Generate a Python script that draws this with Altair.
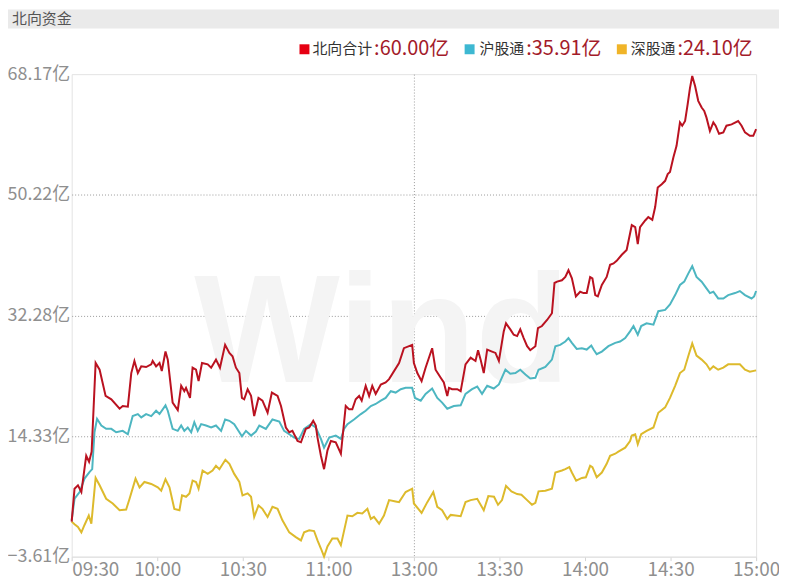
import json
import altair as alt
import pandas as pd

# ---- data: (minutes after 09:30 on the trading clock, value in 亿) ----
series_names = ["北向合计", "沪股通", "深股通"]
legend_values = [60.00, 35.91, 24.10]
line_colors = ["#BA1220", "#4DB6C1", "#DDBA2C"]
legend_colors = ["#E60012", "#3DB8D2", "#F0B428"]

red = [(0, 1.6), (1.0, 6.5), (2.2, 7.0), (3.4, 6.0), (5.1, 11.4), (6.1, 10.5), (7.0, 12.0),
       (8.4, 25.2), (9.8, 24.2), (11.9, 20.3), (13.9, 19.8), (16.8, 18.4), (17.9, 18.8),
       (19.7, 18.7), (20.9, 23.7), (22.0, 25.5), (23.2, 23.7), (24.4, 24.7), (26.1, 24.6),
       (27.9, 25.0), (28.4, 25.5), (29.6, 24.7), (30.8, 25.2), (31.6, 24.0), (32.9, 26.9),
       (33.7, 25.7), (35.4, 19.3), (37.2, 18.2), (38.4, 21.8), (39.5, 21.0), (40.1, 21.5),
       (41.5, 20.0), (42.4, 24.5), (43.6, 24.2), (44.5, 22.5), (45.7, 25.2), (47.7, 25.0),
       (48.9, 24.5), (50.6, 25.7), (52.0, 24.5), (53.8, 27.9), (55.3, 26.7), (56.4, 26.2),
       (57.6, 24.5), (58.8, 23.7), (59.7, 20.0), (60.5, 19.8), (61.7, 21.3), (62.9, 20.3),
       (64.0, 17.3), (65.5, 20.0), (66.9, 19.6), (68.7, 17.8), (70.2, 20.8), (72.2, 20.3),
       (73.4, 18.8), (75.1, 15.6), (76.3, 14.9), (77.4, 15.1), (79.2, 13.6), (80.4, 13.4),
       (82.1, 15.4), (83.3, 15.6), (84.7, 16.6), (85.6, 15.9), (86.2, 14.1), (87.4, 11.4),
       (88.5, 9.4), (89.7, 12.2), (90.9, 13.6), (92.6, 13.4), (94.4, 11.7), (95.5, 16.3),
       (96.1, 18.8), (97.3, 18.3), (98.4, 18.3), (99.6, 19.8), (100.8, 20.3), (101.7, 19.6),
       (103.1, 21.8), (104.3, 20.3), (105.4, 21.8), (106.6, 20.6), (108.4, 22.0), (110.1, 22.3),
       (111.3, 22.8), (114.8, 25.2), (116.5, 27.4), (119.4, 27.9), (120.0, 25.2), (121.2, 23.7),
       (122.7, 22.5), (124.1, 24.5), (126.4, 27.4), (127.6, 24.2), (129.4, 23.0), (130.5, 22.3),
       (131.7, 20.3), (132.3, 21.5), (133.4, 21.3), (135.2, 21.3), (136.4, 21.0), (138.1, 25.0),
       (139.9, 26.0), (141.6, 25.5), (142.5, 27.1), (143.4, 25.7), (144.5, 23.7), (145.7, 27.2),
       (147.4, 26.9), (148.6, 26.7), (149.8, 25.5), (151.5, 29.9), (152.3, 31.1), (153.8, 30.2),
       (155.0, 29.4), (156.2, 29.2), (157.3, 30.2), (158.5, 28.9), (159.7, 27.7), (160.8, 27.1),
       (162.6, 27.7), (163.5, 30.4), (164.9, 30.7), (166.7, 31.6), (168.4, 32.6), (169.3, 37.1),
       (170.2, 37.3), (171.9, 37.5), (173.1, 38.0), (174.2, 39.0), (175.4, 37.8), (176.8, 35.1),
       (178.3, 35.8), (179.5, 35.6), (180.6, 35.6), (181.8, 38.0), (182.6, 37.8), (183.6, 35.3),
       (184.5, 35.1), (185.9, 36.8), (187.6, 38.0), (188.8, 39.8), (190.0, 40.0), (191.1, 40.4),
       (192.9, 41.3), (194.6, 42.0), (196.4, 45.7), (197.6, 45.4), (198.5, 42.9), (199.3, 45.4),
       (201.1, 46.4), (202.2, 46.9), (203.6, 46.5), (204.6, 48.4), (205.5, 51.3), (206.9, 51.8),
       (208.1, 52.3), (209.0, 53.3), (209.8, 53.6), (211.0, 55.8), (212.1, 57.5), (213.3, 61.0),
       (214.1, 60.5), (215.1, 61.2), (216.0, 63.7), (216.8, 66.1), (217.6, 67.9), (218.6, 66.4),
       (219.7, 64.2), (220.9, 63.2), (221.8, 62.7), (222.6, 61.7), (223.8, 59.7), (225.0, 61.0),
       (225.8, 60.5), (227.0, 59.3), (228.5, 59.5), (229.6, 60.5), (231.4, 60.7), (233.7, 61.2),
       (234.9, 60.5), (236.1, 59.5), (237.8, 59.0), (239.0, 59.0), (240, 60.0)]

cyan = [(0, 1.8), (1.0, 5.0), (2.8, 6.0), (4.5, 8.0), (6.3, 9.0), (7.2, 9.4), (8.0, 14.9),
        (8.9, 16.9), (10.4, 15.9), (12.1, 15.4), (13.9, 15.4), (15.6, 14.9), (17.9, 15.1),
        (19.7, 14.6), (21.4, 17.3), (23.2, 17.6), (24.4, 17.1), (26.1, 17.6), (27.9, 17.3),
        (29.6, 18.1), (30.8, 17.6), (32.9, 18.9), (33.7, 18.1), (35.4, 15.4), (37.2, 15.1),
        (38.4, 15.9), (39.5, 15.1), (40.7, 15.6), (41.9, 14.9), (43.0, 16.4), (44.2, 15.1),
        (45.4, 16.1), (47.1, 15.9), (48.9, 15.6), (50.6, 15.9), (52.4, 15.1), (53.8, 16.8),
        (55.3, 16.6), (57.0, 16.1), (58.8, 14.9), (59.7, 14.3), (61.1, 15.1), (62.9, 14.4),
        (64.6, 15.0), (65.8, 15.9), (68.1, 15.4), (70.4, 16.8), (72.8, 16.5), (74.5, 15.1),
        (76.3, 14.6), (78.0, 14.1), (79.8, 13.9), (81.5, 15.4), (83.9, 16.1), (85.6, 15.6),
        (87.4, 13.9), (88.5, 12.6), (90.3, 14.1), (92.6, 14.4), (94.4, 13.9), (95.5, 15.4),
        (96.7, 16.1), (99.0, 16.8), (101.4, 17.6), (103.1, 18.1), (104.9, 18.8), (106.6, 19.1),
        (108.4, 19.6), (110.1, 20.0), (111.9, 21.0), (113.6, 20.8), (115.4, 21.3), (117.1, 21.5),
        (119.4, 21.5), (120.4, 20.0), (122.4, 19.6), (124.1, 20.6), (126.4, 21.4), (128.2, 20.0),
        (129.9, 19.3), (131.7, 18.4), (134.0, 18.8), (136.4, 18.9), (138.1, 20.6), (140.4, 21.3),
        (142.2, 21.7), (143.9, 20.6), (145.7, 21.8), (148.0, 21.4), (149.8, 22.0), (152.1, 24.2),
        (153.8, 23.6), (155.6, 23.7), (157.3, 24.2), (159.1, 23.5), (160.8, 22.9), (162.6, 23.0),
        (163.7, 24.2), (166.1, 24.6), (168.4, 25.7), (169.6, 27.7), (171.3, 27.9), (173.1, 28.4),
        (174.2, 28.9), (175.4, 28.2), (177.1, 27.3), (178.9, 27.4), (180.6, 27.2), (182.2, 27.8),
        (183.0, 27.2), (184.1, 26.5), (185.9, 26.9), (188.2, 27.7), (190.6, 28.2), (192.3, 28.4),
        (194.1, 28.9), (195.8, 29.9), (197.0, 30.7), (198.5, 29.4), (199.7, 30.7), (201.6, 31.1),
        (204.0, 30.9), (205.7, 32.9), (208.1, 33.1), (209.8, 33.9), (211.6, 35.3), (213.3, 36.8),
        (214.8, 37.3), (216.2, 38.5), (217.6, 39.6), (219.1, 38.0), (220.9, 37.3), (222.6, 36.3),
        (223.8, 35.6), (225.0, 35.8), (226.7, 34.8), (228.5, 34.8), (230.2, 35.3), (232.6, 35.6),
        (234.3, 35.9), (236.1, 35.3), (238.4, 34.8), (239.3, 35.1), (240, 35.91)]

yellow = [(0, 1.6), (1.0, 1.2), (2.2, 0.8), (3.4, 0.0), (4.5, 1.1), (6.0, 2.5), (6.9, 1.3),
          (8.4, 8.1), (9.8, 7.0), (12.1, 5.0), (14.4, 4.3), (16.8, 3.3), (19.1, 3.4), (20.3, 5.0),
          (22.4, 8.0), (23.8, 6.7), (25.5, 7.5), (27.9, 7.2), (30.2, 6.7), (31.4, 6.2), (32.9, 7.9),
          (34.3, 6.7), (36.0, 3.5), (37.8, 3.3), (38.7, 5.5), (40.1, 5.3), (41.3, 5.8), (42.4, 7.7),
          (43.6, 7.5), (44.5, 6.5), (45.9, 9.2), (47.7, 8.7), (49.4, 9.2), (50.6, 9.9), (51.8, 9.4),
          (53.9, 10.8), (55.3, 10.2), (57.0, 8.7), (58.8, 7.5), (59.9, 5.5), (61.7, 5.8),
          (62.9, 5.3), (64.0, 2.3), (65.5, 4.0), (66.9, 3.5), (68.7, 2.3), (70.4, 3.8), (72.2, 3.5),
          (73.9, 1.8), (76.3, 0.0), (78.6, -0.7), (80.4, -1.2), (81.5, 0.0), (83.3, 0.3),
          (85.0, 0.2), (86.2, -1.2), (87.4, -2.4), (88.5, -3.6), (89.7, -2.1), (91.4, -0.9),
          (93.2, -0.9), (94.4, -1.9), (96.7, 2.5), (98.4, 2.4), (100.2, 2.9), (101.9, 2.8),
          (103.7, 3.5), (104.9, 2.0), (106.0, 2.3), (107.8, 1.3), (109.5, 2.5), (111.3, 4.8),
          (113.6, 4.6), (114.8, 4.5), (117.1, 6.0), (119.4, 6.5), (120.0, 4.3), (122.7, 2.9),
          (124.7, 4.5), (126.8, 6.0), (128.2, 3.8), (129.9, 3.3), (131.7, 2.0), (132.9, 2.6),
          (134.6, 2.5), (136.4, 2.4), (138.1, 4.5), (139.9, 4.8), (142.2, 5.0), (144.5, 3.3),
          (146.1, 5.4), (148.1, 5.3), (149.5, 4.1), (150.9, 4.8), (152.3, 6.9), (154.2, 6.1),
          (156.2, 5.7), (157.7, 5.6), (159.7, 4.8), (161.4, 4.1), (162.6, 4.4), (163.7, 6.1),
          (166.1, 6.2), (168.4, 6.5), (169.6, 8.9), (171.9, 9.2), (173.1, 9.4), (174.5, 9.7),
          (175.4, 8.9), (176.9, 7.7), (178.9, 8.1), (180.3, 8.2), (181.8, 9.9), (182.6, 9.7),
          (184.1, 8.2), (185.9, 8.9), (187.6, 10.2), (188.8, 11.4), (190.6, 11.7), (191.7, 12.0),
          (194.1, 12.6), (195.8, 13.6), (196.4, 14.4), (197.6, 14.6), (198.5, 13.1), (199.7, 14.6),
          (201.6, 15.1), (204.0, 15.6), (205.7, 17.8), (208.1, 18.6), (209.8, 20.0), (211.6, 21.8),
          (213.3, 23.7), (214.8, 24.2), (216.2, 26.2), (217.6, 28.1), (219.1, 26.3), (220.9, 25.7),
          (222.6, 25.0), (223.8, 24.2), (225.0, 24.7), (226.7, 24.2), (228.5, 24.5), (230.2, 25.0),
          (232.6, 25.0), (234.3, 25.0), (236.1, 24.2), (237.8, 23.9), (240, 24.10)]

x_tick_values = [0, 30, 60, 90, 120, 150, 180, 210, 240]
x_tick_labels = ["09:30", "10:00", "10:30", "11:00", "13:00", "13:30", "14:00", "14:30", "15:00"]
y_tick_values = [-3.61, 14.33, 32.28, 50.22, 68.17]

# ---- build table ----
rows = []
for name, pts in zip(series_names, [red, cyan, yellow]):
    for t, v in pts:
        rows.append({"t": t, "v": v, "s": name})
df = pd.DataFrame(rows)

CJK = "Noto Sans CJK SC"
label_map = json.dumps(dict(zip([str(v) for v in x_tick_values], x_tick_labels)), ensure_ascii=False)

x_axis = alt.Axis(
    values=x_tick_values,
    labelExpr=f"{label_map}[toString(datum.value)]",
    title=None,
    grid=True,
    gridOpacity={"condition": {"test": "datum.value == 120", "value": 1}, "value": 0},
    gridDash=[1, 2],
    gridColor="#9A9A9A",
    domainColor="#E0E0E0",
    ticks=True,
    tickColor="#D5D5D5",
    tickSize=4,
    labelColor="#8F8F8F",
    labelFont=CJK,
    labelFontSize=19,
    labelPadding=0,
    labelAlign={"condition": {"test": "datum.value == 0", "value": "left"}, "value": "center"},
    labelFlush=False,
    labelOverlap=False,
    labelBound=False,
)
y_axis = alt.Axis(
    values=y_tick_values,
    labelExpr="format(datum.value, '.2f') + '亿'",
    title=None,
    grid=True,
    gridOpacity={"condition": {"test": "datum.value > -3 && datum.value < 68", "value": 1}, "value": 0},
    gridDash=[1, 2],
    gridColor="#9A9A9A",
    domain=False,
    ticks=False,
    labelColor="#8F8F8F",
    labelFont=CJK,
    labelFontSize=18,
    labelPadding=2,
    labelOverlap=False,
    labelFlush=False,
    labelBound=False,
)

x_enc = alt.X("t:Q", scale=alt.Scale(domain=[0, 240], nice=False, zero=False), axis=x_axis)
y_enc = alt.Y("v:Q", scale=alt.Scale(domain=[-3.61, 68.17], nice=False, zero=False), axis=y_axis)

one = pd.DataFrame({"k": [0]})

# watermark
watermark = alt.Chart(one).mark_text(
    text="Wind", font="Liberation Sans", fontWeight="bold", fontSize=155,
    color="#F4F4F4", align="center", baseline="middle"
).encode(x=alt.value(312), y=alt.value(262))

lines = []
for name, col in reversed(list(zip(series_names, line_colors))):
    lines.append(
        alt.Chart(df).transform_filter(alt.datum.s == name)
        .mark_line(color=col, strokeWidth=2, interpolate="linear")
        .encode(x=x_enc, y=y_enc)
    )

# header bar and title
header = alt.Chart(one).mark_rect(color="#EAEAEA").encode(
    x=alt.value(-64), x2=alt.value(711), y=alt.value(-65), y2=alt.value(-46))
title = alt.Chart(one).mark_text(
    text="北向资金", font=CJK, fontSize=15, color="#555555", align="left", baseline="middle"
).encode(x=alt.value(-60), y=alt.value(-55))

# custom legend
leg_sq_x = [234, 400, 553]
leg_name_x = [242, 410, 562]
leg_val_x = [304, 457, 609]
legend_layers = []
for i, name in enumerate(series_names):
    legend_layers.append(alt.Chart(one).mark_square(size=100, color=legend_colors[i], opacity=1)
                         .encode(x=alt.value(leg_sq_x[i]), y=alt.value(-25)))
    legend_layers.append(alt.Chart(one).mark_text(
        text=name, font=CJK, fontSize=15, color="#333333", align="left", baseline="middle")
        .encode(x=alt.value(leg_name_x[i]), y=alt.value(-25)))
    legend_layers.append(alt.Chart(one).mark_text(
        text=f":{legend_values[i]:.2f}亿", font=CJK, fontSize=20, color="#A31B2A",
        align="left", baseline="middle")
        .encode(x=alt.value(leg_val_x[i]), y=alt.value(-25)))

chart = alt.layer(watermark, *lines, header, title, *legend_layers).properties(
    width=688, height=485,
    autosize=alt.AutoSizeParams(type="none"),
    padding={"left": 64, "top": 65, "right": 23, "bottom": 24},
    background="white",
).configure_view(stroke="#E3E3E3", strokeWidth=1)

chart.save("out.html", embed_options={"renderer": "svg", "actions": False})
